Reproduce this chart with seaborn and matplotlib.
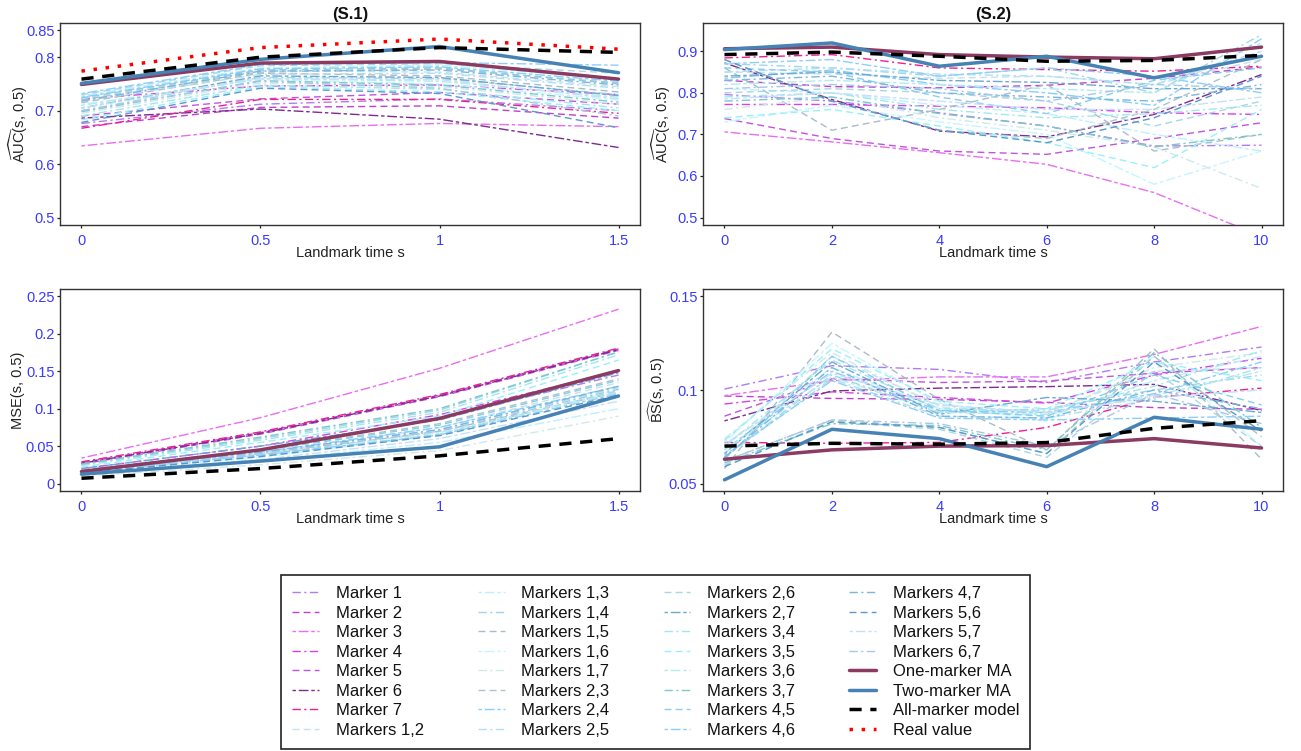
import matplotlib
matplotlib.use("Agg")
import matplotlib.pyplot as plt
import seaborn as sns
from matplotlib.lines import Line2D
from matplotlib.ticker import FuncFormatter

# ---------------- data ----------------
s1_times = [0, 0.5, 1, 1.5]
s2_times = [0, 2, 4, 6, 8, 10]

single_names = ["Marker 1", "Marker 2", "Marker 3", "Marker 4", "Marker 5", "Marker 6", "Marker 7"]
pair_names = ["Markers 1,2", "Markers 1,3", "Markers 1,4", "Markers 1,5", "Markers 1,6", "Markers 1,7",
              "Markers 2,3", "Markers 2,4", "Markers 2,5", "Markers 2,6", "Markers 2,7",
              "Markers 3,4", "Markers 3,5", "Markers 3,6", "Markers 3,7",
              "Markers 4,5", "Markers 4,6", "Markers 4,7", "Markers 5,6", "Markers 5,7", "Markers 6,7"]
special_names = ["One-marker MA", "Two-marker MA", "All-marker model", "Real value"]

# (S.1) AUC
auc_s1_single = [
    [0.676, 0.712, 0.722, 0.700],
    [0.670, 0.706, 0.709, 0.686],
    [0.634, 0.667, 0.676, 0.670],
    [0.722, 0.746, 0.748, 0.730],
    [0.690, 0.722, 0.734, 0.712],
    [0.686, 0.703, 0.684, 0.631],
    [0.667, 0.721, 0.721, 0.695],
]
auc_s1_pairs = [
    [0.722, 0.775, 0.772, 0.745], [0.728, 0.780, 0.785, 0.760], [0.700, 0.762, 0.760, 0.730],
    [0.715, 0.770, 0.765, 0.735], [0.712, 0.758, 0.750, 0.720], [0.695, 0.752, 0.745, 0.712],
    [0.720, 0.772, 0.778, 0.752], [0.725, 0.778, 0.782, 0.755], [0.718, 0.768, 0.770, 0.742],
    [0.730, 0.784, 0.788, 0.770], [0.705, 0.765, 0.762, 0.728], [0.690, 0.748, 0.740, 0.705],
    [0.683, 0.745, 0.735, 0.700], [0.710, 0.760, 0.755, 0.725], [0.698, 0.756, 0.748, 0.716],
    [0.724, 0.776, 0.780, 0.750], [0.732, 0.786, 0.790, 0.785], [0.718, 0.774, 0.776, 0.748],
    [0.678, 0.742, 0.732, 0.668], [0.705, 0.760, 0.758, 0.722], [0.700, 0.755, 0.742, 0.690],
]
auc_s1_one_ma = [0.749, 0.789, 0.792, 0.759]
auc_s1_two_ma = [0.751, 0.796, 0.820, 0.771]
auc_s1_all = [0.759, 0.800, 0.818, 0.809]
auc_s1_real = [0.774, 0.818, 0.834, 0.815]

# (S.2) AUC
auc_s2_single = [
    [0.796, 0.780, 0.752, 0.720, 0.672, 0.674],
    [0.830, 0.815, 0.812, 0.818, 0.835, 0.862],
    [0.706, 0.682, 0.656, 0.628, 0.560, 0.455],
    [0.772, 0.772, 0.768, 0.764, 0.752, 0.748],
    [0.738, 0.690, 0.660, 0.652, 0.690, 0.728],
    [0.872, 0.784, 0.708, 0.694, 0.748, 0.844],
    [0.884, 0.892, 0.860, 0.856, 0.852, 0.864],
]
auc_s2_pairs = [
    [0.850, 0.845, 0.835, 0.840, 0.820, 0.880], [0.810, 0.800, 0.770, 0.750, 0.700, 0.660],
    [0.870, 0.860, 0.840, 0.860, 0.800, 0.940], [0.860, 0.710, 0.760, 0.820, 0.660, 0.700],
    [0.730, 0.770, 0.730, 0.700, 0.580, 0.660], [0.760, 0.790, 0.740, 0.710, 0.670, 0.570],
    [0.880, 0.780, 0.710, 0.690, 0.760, 0.880], [0.835, 0.855, 0.820, 0.800, 0.770, 0.930],
    [0.850, 0.860, 0.845, 0.840, 0.820, 0.900], [0.800, 0.810, 0.800, 0.780, 0.720, 0.780],
    [0.840, 0.850, 0.830, 0.825, 0.810, 0.810], [0.790, 0.800, 0.760, 0.740, 0.750, 0.770],
    [0.740, 0.760, 0.720, 0.680, 0.620, 0.760], [0.820, 0.830, 0.820, 0.810, 0.800, 0.920],
    [0.780, 0.790, 0.750, 0.720, 0.670, 0.700], [0.860, 0.850, 0.790, 0.750, 0.830, 0.860],
    [0.870, 0.880, 0.840, 0.860, 0.840, 0.800], [0.830, 0.840, 0.800, 0.790, 0.780, 0.820],
    [0.880, 0.780, 0.710, 0.680, 0.740, 0.840], [0.785, 0.800, 0.780, 0.760, 0.760, 0.790],
    [0.810, 0.820, 0.810, 0.780, 0.820, 0.810],
]
auc_s2_one_ma = [0.906, 0.910, 0.892, 0.886, 0.882, 0.910]
auc_s2_two_ma = [0.904, 0.920, 0.864, 0.888, 0.836, 0.888]
auc_s2_all = [0.892, 0.898, 0.888, 0.876, 0.878, 0.890]

# (S.1) MSE
mse_s1_single = [
    [0.018, 0.045, 0.088, 0.145],
    [0.028, 0.068, 0.118, 0.180],
    [0.034, 0.088, 0.154, 0.233],
    [0.020, 0.050, 0.092, 0.150],
    [0.026, 0.066, 0.116, 0.178],
    [0.027, 0.067, 0.117, 0.179],
    [0.029, 0.069, 0.119, 0.181],
]
mse_s1_pairs = [
    [0.015, 0.040, 0.075, 0.135], [0.012, 0.030, 0.055, 0.100], [0.025, 0.060, 0.098, 0.176],
    [0.016, 0.038, 0.070, 0.122], [0.014, 0.035, 0.065, 0.125], [0.010, 0.025, 0.044, 0.090],
    [0.018, 0.045, 0.080, 0.140], [0.016, 0.042, 0.075, 0.130], [0.017, 0.040, 0.072, 0.128],
    [0.015, 0.037, 0.066, 0.124], [0.020, 0.050, 0.085, 0.148], [0.024, 0.058, 0.095, 0.172],
    [0.022, 0.055, 0.090, 0.165], [0.016, 0.040, 0.068, 0.122], [0.026, 0.062, 0.100, 0.176],
    [0.018, 0.044, 0.078, 0.138], [0.015, 0.038, 0.065, 0.120], [0.017, 0.042, 0.072, 0.130],
    [0.014, 0.036, 0.064, 0.118], [0.012, 0.032, 0.060, 0.110], [0.016, 0.040, 0.070, 0.126],
]
mse_s1_one_ma = [0.016, 0.045, 0.087, 0.151]
mse_s1_two_ma = [0.0125, 0.030, 0.049, 0.117]
mse_s1_all = [0.007, 0.020, 0.037, 0.060]

# (S.2) BS
bs_s2_single = [
    [0.1005, 0.113, 0.111, 0.104, 0.115, 0.123],
    [0.0968, 0.0955, 0.0950, 0.0934, 0.0906, 0.0897],
    [0.097, 0.105, 0.107, 0.107, 0.119, 0.134],
    [0.0925, 0.099, 0.096, 0.093, 0.108, 0.117],
    [0.086, 0.106, 0.104, 0.1048, 0.109, 0.112],
    [0.0835, 0.0995, 0.101, 0.1018, 0.103, 0.089],
    [0.072, 0.0715, 0.072, 0.080, 0.096, 0.101],
]
bs_s2_pairs = [
    [0.066, 0.118, 0.092, 0.088, 0.110, 0.112], [0.070, 0.112, 0.090, 0.086, 0.105, 0.118],
    [0.064, 0.108, 0.088, 0.090, 0.100, 0.108], [0.058, 0.131, 0.095, 0.068, 0.122, 0.063],
    [0.072, 0.125, 0.093, 0.083, 0.118, 0.070], [0.074, 0.120, 0.091, 0.087, 0.112, 0.120],
    [0.062, 0.084, 0.080, 0.066, 0.118, 0.075], [0.068, 0.110, 0.089, 0.088, 0.098, 0.115],
    [0.064, 0.106, 0.086, 0.085, 0.095, 0.112], [0.060, 0.083, 0.079, 0.064, 0.110, 0.070],
    [0.066, 0.115, 0.087, 0.096, 0.094, 0.088], [0.070, 0.116, 0.090, 0.089, 0.102, 0.121],
    [0.073, 0.122, 0.094, 0.090, 0.115, 0.105], [0.068, 0.107, 0.088, 0.087, 0.097, 0.110],
    [0.061, 0.082, 0.081, 0.068, 0.120, 0.080], [0.063, 0.118, 0.089, 0.086, 0.108, 0.092],
    [0.065, 0.105, 0.085, 0.084, 0.085, 0.086], [0.064, 0.112, 0.086, 0.085, 0.100, 0.090],
    [0.059, 0.083, 0.080, 0.066, 0.115, 0.078], [0.071, 0.109, 0.092, 0.088, 0.096, 0.100],
    [0.062, 0.084, 0.082, 0.070, 0.098, 0.082],
]
bs_s2_one_ma = [0.063, 0.068, 0.070, 0.0703, 0.074, 0.069]
bs_s2_two_ma = [0.052, 0.079, 0.074, 0.059, 0.0854, 0.079]
bs_s2_all = [0.070, 0.0715, 0.071, 0.0719, 0.0795, 0.0836]

# ---------------- styles ----------------
single_colors = ["#b07cf0", "#c040d0", "#e86ef0", "#d840e8", "#c055dd", "#7e2a8e", "#ee2090"]
pair_colors = ["#c4e2ee", "#bfefff", "#9fd6e6", "#a9bcc8", "#c4f6ff", "#cfe9ea",
               "#adc4c6", "#87cefa", "#b0def4", "#a8d6e6", "#6ea8cf",
               "#a2e6ee", "#98f0fa", "#b4eaec", "#7cc8ca",
               "#88cdea", "#8ecff8", "#7ab6de", "#5a98cc", "#c6e0fa", "#a6c8e6"]
special_colors = ["#8b3a62", "#4682b4", "#000000", "#ff0000"]

DASHDOT = (0, (6, 2.5, 1.5, 2.5))
DASHED = (0, (5, 3))
TWODASH = (0, (2.5, 2, 7, 2))
cycle_styles = [DASHDOT, DASHED, TWODASH]
special_styles = ["-", "-", (0, (3.5, 2.5)), (0, (1, 2.5))]
special_lw = [2.5, 2.5, 2.5, 2.5]

# ---------------- figure ----------------
sns.set_theme(style="white")
plt.rcParams["font.family"] = ["Liberation Sans", "DejaVu Sans"]
plt.rcParams["mathtext.fontset"] = "custom"
plt.rcParams["mathtext.rm"] = "Liberation Sans"
plt.rcParams["mathtext.it"] = "Liberation Sans:italic"

W, H = 1301, 751
fig = plt.figure(figsize=(W / 100, H / 100), dpi=100)
fig.patch.set_facecolor("white")


def make_ax(x0, y0):
    return fig.add_axes([x0 / W, 1 - (y0 + 202) / H, 580 / W, 202 / H])


ax_tl = make_ax(60, 23)
ax_tr = make_ax(703, 23)
ax_bl = make_ax(60, 289)
ax_br = make_ax(703, 289)

all_names = single_names + pair_names + special_names
all_colors = single_colors + pair_colors + special_colors
all_styles = [cycle_styles[i % 3] for i in range(28)] + special_styles
all_lws = [1.0] * 28 + special_lw


def draw(ax, times, singles, pairs, specials):
    series = singles + pairs
    for i, vals in enumerate(series):
        sns.lineplot(x=times, y=vals, ax=ax, color=all_colors[i], linewidth=all_lws[i],
                     linestyle=all_styles[i], legend=False, errorbar=None)
    for j, vals in enumerate(specials):
        if vals is None:
            continue
        k = 28 + j
        sns.lineplot(x=times, y=vals, ax=ax, color=all_colors[k], linewidth=all_lws[k],
                     linestyle=all_styles[k], legend=False, errorbar=None)


draw(ax_tl, s1_times, auc_s1_single, auc_s1_pairs, [auc_s1_one_ma, auc_s1_two_ma, auc_s1_all, auc_s1_real])
draw(ax_tr, s2_times, auc_s2_single, auc_s2_pairs, [auc_s2_one_ma, auc_s2_two_ma, auc_s2_all, None])
draw(ax_bl, s1_times, mse_s1_single, mse_s1_pairs, [mse_s1_one_ma, mse_s1_two_ma, mse_s1_all, None])
draw(ax_br, s2_times, bs_s2_single, bs_s2_pairs, [bs_s2_one_ma, bs_s2_two_ma, bs_s2_all, None])

fmt = FuncFormatter(lambda v, p: "%g" % round(v, 4))
TICK_BLUE = "#3a3aff"


def style_ax(ax, xlim, xticks, ylim, yticks, ylabel, ylab_x, title=None):
    ax.set_xlim(*xlim)
    ax.set_ylim(*ylim)
    ax.set_xticks(xticks)
    ax.set_yticks(yticks)
    ax.xaxis.set_major_formatter(fmt)
    ax.yaxis.set_major_formatter(fmt)
    ax.tick_params(axis="both", which="major", direction="out", length=2.5, width=0.9,
                   color="#222222", labelcolor=TICK_BLUE, labelsize=10.5, bottom=True, left=True)
    ax.tick_params(axis="x", pad=4)
    ax.tick_params(axis="y", pad=1.5)
    for sp in ax.spines.values():
        sp.set_color("#333333")
        sp.set_linewidth(1.0)
        sp.set_visible(True)
    ax.set_facecolor("white")
    ax.grid(False)
    ax.set_xlabel("Landmark time s", fontsize=10.5, color="#222222")
    ax.xaxis.set_label_coords(0.5, -0.102)
    ax.set_ylabel(ylabel, fontsize=10.5, color="#222222")
    ax.yaxis.set_label_coords(ylab_x, 0.5)
    if title:
        ax.set_title(title, fontsize=12, fontweight="bold", color="#111111", pad=3)


style_ax(ax_tl, (-0.06, 1.56), s1_times, (0.486, 0.864), [0.5, 0.6, 0.7, 0.8, 0.85],
         r"$\widehat{\mathrm{AUC}}$(s, 0.5)", -0.052, "(S.1)")
style_ax(ax_tr, (-0.4, 10.4), s2_times, (0.482, 0.968), [0.5, 0.6, 0.7, 0.8, 0.9],
         r"$\widehat{\mathrm{AUC}}$(s, 0.5)", -0.052, "(S.2)")
style_ax(ax_bl, (-0.06, 1.56), s1_times, (-0.01, 0.26), [0, 0.05, 0.1, 0.15, 0.2, 0.25],
         "MSE(s, 0.5)", -0.060)
style_ax(ax_br, (-0.4, 10.4), s2_times, (0.046, 0.154), [0.05, 0.1, 0.15],
         r"$\widehat{\mathrm{BS}}$(s, 0.5)", -0.060)

# ---------------- legend ----------------
handles = [Line2D([0], [0], color=all_colors[i], linewidth=all_lws[i], linestyle=all_styles[i])
           for i in range(len(all_names))]
leg = fig.legend(handles, all_names, ncol=4, loc="upper left",
                 bbox_to_anchor=(281 / W, 1 - 575 / H), fontsize=12,
                 frameon=True, fancybox=False, edgecolor="#222222", framealpha=1,
                 handlelength=1.6, handletextpad=1.0, columnspacing=3.25,
                 labelspacing=0.27, borderpad=0.68, borderaxespad=0)
leg.get_frame().set_linewidth(1.2)
for t in leg.get_texts():
    t.set_color("#111111")

fig.savefig("out.png", dpi=100, facecolor="white")
